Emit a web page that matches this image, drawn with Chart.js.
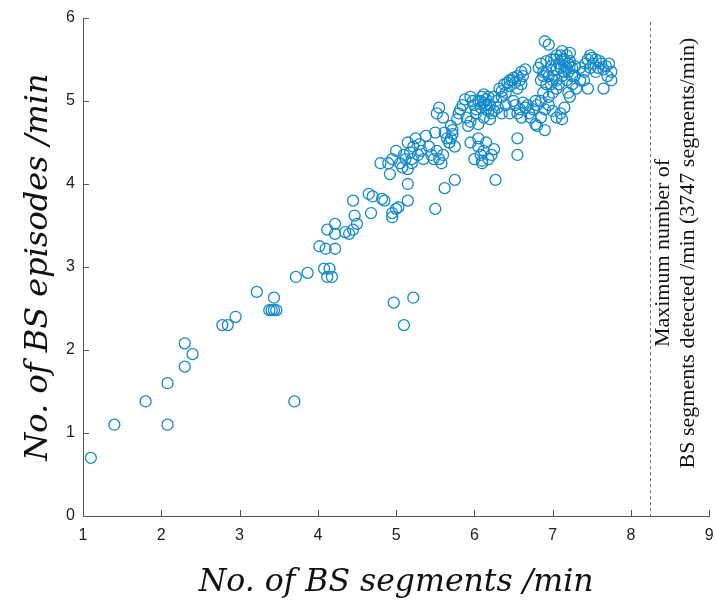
<!DOCTYPE html>
<html>
<head>
<meta charset="utf-8">
<script src="https://cdn.jsdelivr.net/npm/chart.js@4"></script>
<style>
  html, body { margin: 0; padding: 0; background: #fff; }
  #wrap { width: 716px; height: 603px; }
</style>
</head>
<body>
<div id="wrap"><canvas id="scatterChart"></canvas></div>
<script>
// x = BS segments /min, y = BS episodes /min
const segX = [
  1.10, 1.40, 1.80, 2.08, 2.08, 2.30, 2.30, 2.40, 2.78, 2.85, 2.95, 3.22, 3.38, 3.41, 3.44, 3.47, 3.44, 3.70, 3.72, 3.87,
  4.08, 4.15, 4.12, 4.18, 4.02, 4.10, 4.22, 4.12, 4.22, 4.22, 4.35, 4.40, 4.45, 4.50, 4.47, 4.45, 4.65, 4.70, 4.68, 4.82,
  4.85, 4.95, 4.95, 5.00, 5.03, 5.15, 5.15, 4.97, 5.22, 5.10, 5.50, 5.62, 5.75,
  4.80, 4.90, 4.92, 4.95, 5.00, 5.05, 5.08, 5.10, 5.12, 5.15, 5.18, 5.20, 5.22, 5.25, 5.28, 5.30, 5.32, 5.35, 5.15, 5.20,
  5.38, 5.42, 5.45, 5.50, 5.52, 5.55, 5.55, 5.58, 5.60, 5.62, 5.65, 5.68, 5.70, 5.72, 5.70, 5.75, 5.52, 5.68, 5.72, 5.78,
  5.80, 5.60, 5.48,
  5.82, 5.85, 5.88, 5.90, 5.95, 5.98, 6.00, 6.02, 6.05, 6.08, 6.10, 6.12, 6.12, 6.15, 6.15, 6.18, 6.20, 6.22, 6.25, 6.20,
  6.05, 5.95, 5.92, 6.00, 6.05, 6.08, 6.10, 6.12, 6.15, 6.18, 6.22, 6.25, 6.10, 6.27, 6.05, 5.95, 6.28, 6.30,
  6.08, 6.12, 6.18, 6.02, 6.15, 6.25,
  6.32, 6.35, 6.38, 6.40, 6.42, 6.45, 6.48, 6.50, 6.52, 6.55, 6.58, 6.60, 6.62, 6.65, 6.50, 6.52, 6.55, 6.58, 6.60, 6.62,
  6.65, 6.68, 6.70, 6.72, 6.75, 6.55, 6.55, 6.45, 6.40, 6.35, 6.78, 6.80, 6.78, 6.35, 6.45, 6.60, 6.55,
  6.82, 6.85, 6.88, 6.90, 6.95, 6.92, 6.95, 6.98, 7.00, 7.02, 7.05, 7.08, 7.10, 7.12, 7.15, 7.15, 7.18, 7.20, 7.22, 7.25,
  7.28, 7.18, 7.12, 7.08, 7.05, 7.00, 6.95, 6.92, 6.88, 6.85, 6.90, 6.95, 7.00, 6.85, 6.80, 6.90, 7.05, 7.10, 7.15, 7.12,
  7.20, 7.25, 7.22, 7.30, 7.18, 7.10, 7.02, 6.98,
  6.85, 6.88, 6.92, 7.05, 7.12, 7.20, 7.15, 7.25, 7.28, 7.05, 6.98, 7.22,
  7.35, 7.40, 7.42, 7.45, 7.48, 7.50, 7.52, 7.55, 7.58, 7.60, 7.62, 7.65, 7.68, 7.70, 7.72, 7.75, 7.75, 7.65, 7.45, 7.48,
  7.55, 7.40, 7.35
];
const episodeY = [
  0.70, 1.10, 1.38, 1.10, 1.60, 1.80, 2.08, 1.95, 2.30, 2.30, 2.40, 2.70, 2.48, 2.48, 2.48, 2.48, 2.63, 1.38, 2.88, 2.93,
  2.98, 2.98, 2.88, 2.88, 3.25, 3.22, 3.22, 3.45, 3.52, 3.40, 3.42, 3.40, 3.45, 3.52, 3.62, 3.80, 3.88, 3.85, 3.65, 3.82,
  3.80, 3.60, 3.65, 3.70, 3.72, 3.80, 4.00, 2.57, 2.63, 2.30, 3.70, 3.95, 4.05,
  4.25, 4.25, 4.12, 4.30, 4.40, 4.25, 4.20, 4.35, 4.30, 4.50, 4.38, 4.25, 4.45, 4.55, 4.35, 4.48, 4.40, 4.30, 4.18, 4.30,
  4.58, 4.45, 4.35, 4.62, 4.40, 4.30, 4.92, 4.25, 4.80, 4.62, 4.55, 4.50, 4.70, 4.60, 4.55, 4.45, 4.85, 4.50, 4.65, 4.78,
  4.85, 4.35, 4.30,
  4.90, 4.95, 5.02, 4.80, 5.05, 5.00, 4.95, 4.85, 5.00, 4.92, 5.05, 4.98, 4.80, 4.90, 5.02, 4.88, 4.95, 4.85, 5.05, 4.78,
  4.72, 4.75, 4.70, 4.30, 4.45, 4.35, 4.25, 4.40, 4.50, 4.30, 4.35, 4.42, 4.28, 4.05, 4.55, 4.50, 5.00, 4.92,
  5.00, 5.08, 5.05, 4.90, 4.95, 4.88,
  5.15, 5.05, 5.20, 5.10, 5.22, 5.18, 5.25, 5.28, 5.22, 5.30, 5.25, 5.35, 5.30, 5.38, 5.00, 4.95, 4.85, 4.90, 4.80, 4.98,
  4.92, 4.95, 4.85, 4.80, 4.90, 4.55, 4.35, 4.85, 4.95, 4.85, 5.00, 4.95, 4.72, 5.12, 5.25, 5.20, 5.15,
  5.40, 5.45, 5.35, 5.72, 5.68, 5.48, 5.30, 5.42, 5.25, 5.50, 5.38, 5.45, 5.55, 5.60, 5.50, 5.42, 5.55, 5.35, 5.48, 5.40,
  5.30, 5.25, 5.30, 5.20, 5.15, 5.10, 5.05, 5.20, 5.10, 5.00, 4.90, 4.95, 4.88, 4.80, 4.70, 4.65, 4.80, 4.85, 4.92, 4.78,
  5.10, 5.20, 5.05, 5.15, 5.40, 5.40, 5.30, 5.20,
  5.25, 5.30, 5.35, 5.55, 5.50, 5.45, 5.35, 5.30, 5.42, 5.25, 5.50, 5.58,
  5.25, 5.35, 5.45, 5.50, 5.55, 5.52, 5.45, 5.50, 5.40, 5.48, 5.45, 5.38, 5.42, 5.30, 5.45, 5.35, 5.25, 5.15, 5.15, 5.40,
  5.35, 5.25, 5.40
];
const xTicks = [1, 2, 3, 4, 5, 6, 7, 8, 9];
const yTicks = [0, 1, 2, 3, 4, 5, 6];
const maxSegments = 8.24;   // dashed reference line
const noteLines = ["Maximum number of", "BS segments detected /min (3747 segments/min)"];

const points = segX.map((x, i) => ({ x: x, y: episodeY[i] }));

// inward tick marks, dashed limit line and its rotated note
const extrasPlugin = {
  id: "extras",
  afterDraw(chart) {
    const ctx = chart.ctx;
    const xs = chart.scales.x, ys = chart.scales.y;
    const area = chart.chartArea;
    ctx.save();
    ctx.strokeStyle = "#555";
    ctx.lineWidth = 1;
    xTicks.forEach(t => {
      const px = Math.round(xs.getPixelForValue(t)) + 0.5;
      ctx.beginPath();
      ctx.moveTo(px, area.bottom);
      ctx.lineTo(px, area.bottom - 6);
      ctx.stroke();
    });
    yTicks.forEach(t => {
      const py = Math.round(ys.getPixelForValue(t)) + 0.5;
      ctx.beginPath();
      ctx.moveTo(area.left, py);
      ctx.lineTo(area.left + 6, py);
      ctx.stroke();
    });

    const lx = Math.round(xs.getPixelForValue(maxSegments)) + 0.5;
    ctx.strokeStyle = "#666";
    ctx.setLineDash([3, 3]);
    ctx.beginPath();
    ctx.moveTo(lx, ys.getPixelForValue(5.95));
    ctx.lineTo(lx, area.bottom);
    ctx.stroke();
    ctx.setLineDash([]);

    const cy = 253;
    ctx.fillStyle = "#111";
    ctx.font = "22px 'Liberation Serif', 'Times New Roman', serif";
    ctx.textAlign = "center";
    ctx.textBaseline = "middle";
    noteLines.forEach((line, i) => {
      ctx.save();
      ctx.translate(lx + 13 + i * 25, cy);
      ctx.rotate(-Math.PI / 2);
      ctx.fillText(line, 0, 0);
      ctx.restore();
    });
    ctx.restore();
  }
};

const ctx = document.getElementById("scatterChart").getContext("2d");
const tickFont = { family: "'Liberation Sans Narrow', 'Liberation Sans', Arial, sans-serif", size: 16 };

new Chart(ctx, {
  type: "scatter",
  data: {
    datasets: [{
      label: "BS",
      data: points,
      pointStyle: "circle",
      pointRadius: 5.5,
      pointHoverRadius: 5.5,
      borderWidth: 1.3,
      borderColor: "#1289cb",
      backgroundColor: "rgba(0,0,0,0)"
    }]
  },
  options: {
    responsive: true,
    maintainAspectRatio: false,
    animation: false,
    events: [],
    layout: { padding: { left: 0, right: -3, top: 18, bottom: 0 } },
    plugins: {
      legend: { display: false },
      tooltip: { enabled: false }
    },
    scales: {
      x: {
        type: "linear",
        min: 1,
        max: 9,
        afterBuildTicks: s => { s.ticks = xTicks.map(v => ({ value: v })); },
        afterFit: s => { s.height = 87; s.paddingLeft = 0; s.paddingRight = 0; },
        grid: { display: false, drawTicks: false },
        border: { display: true, color: "#555", width: 1 },
        ticks: { color: "#222", font: tickFont, padding: 10 },
        title: {
          display: true,
          text: "No. of BS segments /min",
          color: "#111",
          font: { family: "'DejaVu Serif', 'Liberation Serif', serif", size: 31.5, style: "italic" },
          padding: { top: 0, bottom: 1 }
        }
      },
      y: {
        type: "linear",
        min: 0,
        max: 6,
        afterBuildTicks: s => { s.ticks = yTicks.map(v => ({ value: v })); },
        afterFit: s => { s.width = 83; },
        grid: { display: false, drawTicks: false },
        border: { display: true, color: "#555", width: 1 },
        ticks: { color: "#222", font: tickFont, padding: 8 },
        title: {
          display: true,
          text: "No. of BS episodes /min",
          color: "#111",
          font: { family: "'DejaVu Serif', 'Liberation Serif', serif", size: 32, style: "italic" },
          padding: { top: 19, bottom: 0 }
        }
      }
    }
  },
  plugins: [extrasPlugin]
});
</script>
</body>
</html>
